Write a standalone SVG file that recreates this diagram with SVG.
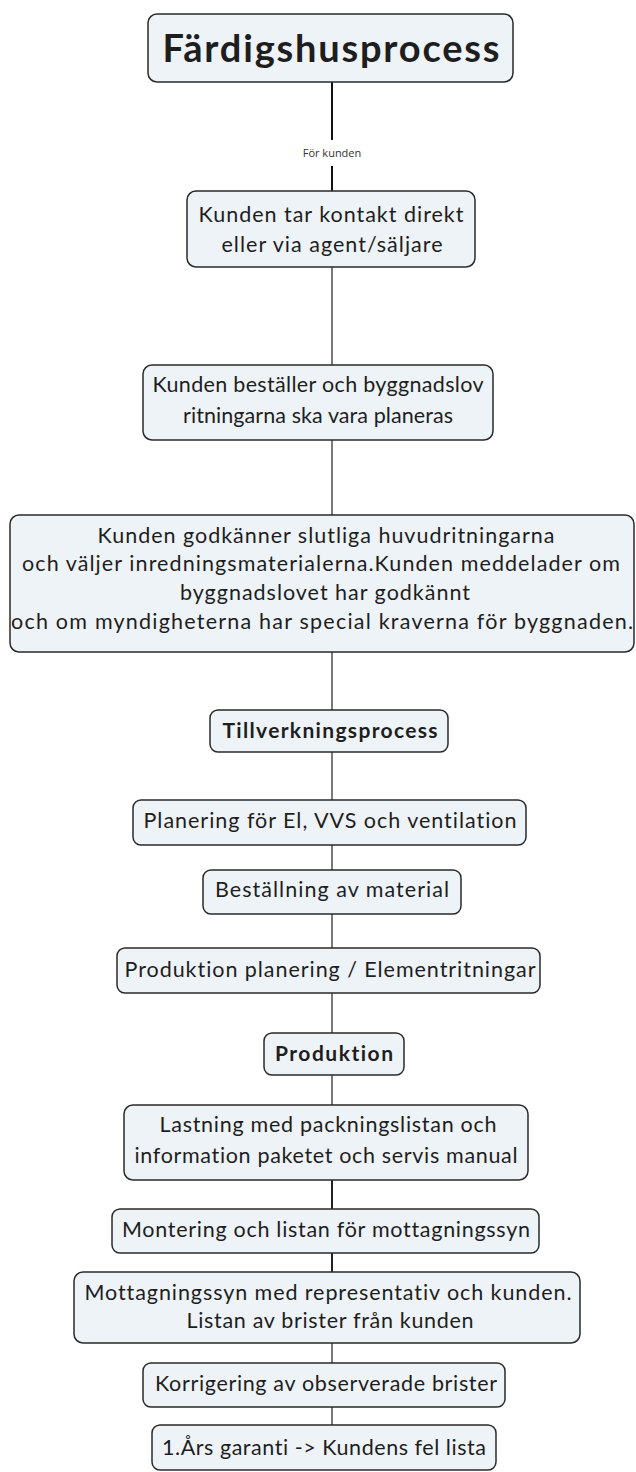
<svg xmlns="http://www.w3.org/2000/svg" width="636" height="1472" viewBox="0 0 636 1472">
<style>
.box{fill:#eef3f7;stroke:#2a2a2a;stroke-width:1.5}
.t{font-family:Lato,"Open Sans",sans-serif;font-size:21.5px;fill:#1e1e1e;text-anchor:middle;font-variant-ligatures:none}
.b{font-weight:bold;font-size:21px}
.h{font-weight:bold;font-size:38px}
.c{stroke:#7a7a7a;stroke-width:2;fill:none}
.lbl{font-family:"Open Sans",sans-serif;font-size:11px;fill:#333;text-anchor:middle}
</style>
<rect width="636" height="1472" fill="#ffffff"/>
<g id="connectors">
<line class="c" x1="332" y1="82" x2="332" y2="140" style="stroke:#111"/>
<line class="c" x1="332" y1="166" x2="332" y2="191" style="stroke:#111"/>
<line class="c" x1="332" y1="267" x2="332" y2="365"/>
<line class="c" x1="332" y1="440" x2="332" y2="515"/>
<line class="c" x1="332" y1="652" x2="332" y2="710"/>
<line class="c" x1="332" y1="752" x2="332" y2="800"/>
<line class="c" x1="332" y1="845" x2="332" y2="870"/>
<line class="c" x1="332" y1="914" x2="332" y2="948"/>
<line class="c" x1="332" y1="993" x2="332" y2="1033"/>
<line class="c" x1="332" y1="1075" x2="332" y2="1105"/>
<line class="c" x1="332" y1="1180" x2="332" y2="1209" style="stroke:#222"/>
<line class="c" x1="332" y1="1253" x2="332" y2="1272" style="stroke:#222"/>
<line class="c" x1="332" y1="1343" x2="332" y2="1363"/>
<line class="c" x1="332" y1="1407" x2="332" y2="1425"/>
<text class="lbl" x="332" y="157">För kunden</text>
</g>
<g id="n0"><rect class="box" x="148" y="14" width="365" height="68" rx="9"/><text class="t h" x="331" y="62" textLength="337">Färdigshusprocess</text></g>
<g id="n1"><rect class="box" x="187" y="191" width="288" height="76" rx="9"/><text class="t" x="331" y="222" textLength="265">Kunden tar kontakt direkt</text><text class="t" x="332" y="252" textLength="221">eller via agent/säljare</text></g>
<g id="n2"><rect class="box" x="143" y="365" width="350" height="75" rx="9"/><text class="t" x="318" y="392" textLength="331">Kunden beställer och byggnadslov</text><text class="t" x="318" y="423" textLength="270">ritningarna ska vara planeras</text></g>
<g id="n3"><rect class="box" x="10" y="515" width="624" height="137" rx="9"/>
<text class="t" x="326" y="543" textLength="457">Kunden godkänner slutliga huvudritningarna</text>
<text class="t" x="321" y="571" textLength="598">och väljer inredningsmaterialerna.Kunden meddelader om</text>
<text class="t" x="325" y="600" textLength="290">byggnadslovet har godkännt</text>
<text class="t" x="322" y="629" textLength="622">och om myndigheterna har special kraverna för byggnaden.</text></g>
<g id="n4"><rect class="box" x="210" y="710" width="238" height="42" rx="8"/><text class="t b" x="330" y="738" textLength="215">Tillverkningsprocess</text></g>
<g id="n5"><rect class="box" x="133" y="800" width="393" height="45" rx="8"/><text class="t" x="330" y="828" textLength="373">Planering för El, VVS och ventilation</text></g>
<g id="n6"><rect class="box" x="203" y="870" width="258" height="44" rx="8"/><text class="t" x="332" y="897" textLength="234">Beställning av material</text></g>
<g id="n7"><rect class="box" x="117" y="948" width="423" height="45" rx="8"/><text class="t" x="330" y="977" textLength="411">Produktion planering / Elementritningar</text></g>
<g id="n8"><rect class="box" x="264" y="1033" width="140" height="42" rx="8"/><text class="t b" x="334" y="1061" textLength="118">Produktion</text></g>
<g id="n9"><rect class="box" x="124" y="1105" width="404" height="75" rx="9"/><text class="t" x="328" y="1132" textLength="337">Lastning med packningslistan och</text><text class="t" x="326" y="1163" textLength="383">information paketet och servis manual</text></g>
<g id="n10"><rect class="box" x="112" y="1209" width="427" height="44" rx="8"/><text class="t" x="326" y="1237" textLength="408">Montering och listan för mottagningssyn</text></g>
<g id="n11"><rect class="box" x="74" y="1272" width="506" height="71" rx="9"/><text class="t" x="328" y="1300" textLength="487">Mottagningssyn med representativ och kunden.</text><text class="t" x="330" y="1328" textLength="287">Listan av brister från kunden</text></g>
<g id="n12"><rect class="box" x="143" y="1363" width="362" height="44" rx="8"/><text class="t" x="326" y="1391" textLength="342">Korrigering av observerade brister</text></g>
<g id="n13"><rect class="box" x="152" y="1425" width="344" height="45" rx="8"/><text class="t" x="324" y="1455" textLength="324">1.Års garanti -&gt; Kundens fel lista</text></g>
</svg>
